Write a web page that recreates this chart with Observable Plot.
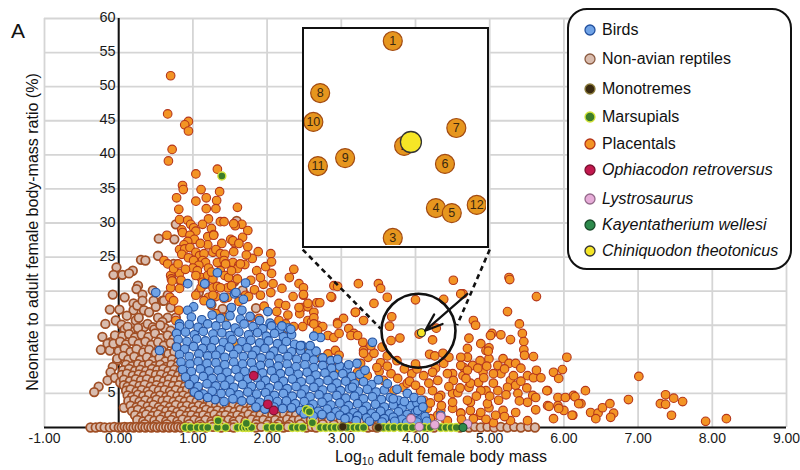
<!DOCTYPE html>
<html><head><meta charset="utf-8">
<script src="https://cdn.jsdelivr.net/npm/d3@7"></script>
<script src="https://cdn.jsdelivr.net/npm/@observablehq/plot@0.6"></script>
<style>
body{margin:0;background:#fff;font-family:"Liberation Sans",Arial,sans-serif;}
#wrap{position:relative;width:800px;height:470px;overflow:hidden;}
#wrap>svg{position:absolute;left:0;top:0;}
.panel{position:absolute;left:11px;top:20px;font-size:21px;line-height:1;color:#111;}
.xtitle{position:absolute;left:241px;width:400px;top:449px;text-align:center;font-size:16px;line-height:1;color:#111;}
.xtitle sub{font-size:10.5px;vertical-align:-3px;line-height:0;}
#inset{position:absolute;left:302px;top:27px;width:187px;height:221px;border:2.5px solid #111;box-sizing:border-box;background:#fff;}
#inset svg{display:block;}
#legend{position:absolute;left:567px;top:8px;width:225px;height:262px;border:2.5px solid #111;border-radius:20px;background:#fff;box-sizing:border-box;}
.li{position:absolute;left:0;height:20px;font-size:16px;line-height:20px;color:#111;white-space:nowrap;}
.li svg{position:absolute;left:14px;top:3px;}
.li span{position:absolute;left:33px;top:0;}
</style></head>
<body><div id="wrap"></div>
<script>
// ---------- axis ticks ----------
const xTicks = [-1,0,1,2,3,4,5,6,7,8,9];
const yGrid = [5,10,15,20,25,30,35,40,45,50,55,60];
const yTickLabels = [5,25,30,35,40,45,50,55,60];

// ---------- series (x = log10 adult female body mass, y = neonate/adult ratio %) ----------
const birds = [
[0.50,19.8],[0.55,11.3],[0.93,21.1],[1.16,21.1],[1.33,22.7],[1.42,19.1],[1.56,19.6],[1.68,18.8],[1.71,21.2],[1.01,17.7],[0.93,17.2],[1.58,19.8],[2.01,17.0],[1.66,17.2],[1.52,17.6],[1.24,18.2],[0.82,15.2],
[0.98,16.2],[1.12,15.8],[1.26,16.5],[1.37,16.0],[1.50,16.4],[1.64,15.9],[1.77,16.3],[1.90,15.7],[2.04,15.3],
[0.82,14.8],[0.95,15.1],[1.07,14.7],[1.20,15.2],[1.31,14.9],[1.45,15.0],[1.57,14.6],[1.69,15.2],[1.81,14.8],[1.94,14.5],[2.06,14.9],[2.17,14.4],[2.28,14.6],
[0.78,13.8],[0.90,14.0],[1.02,13.6],[1.14,14.1],[1.27,13.7],[1.39,13.9],[1.50,13.5],[1.62,14.0],[1.75,13.6],[1.87,13.9],[1.99,13.4],[2.10,13.8],[2.22,13.3],[2.33,13.6],
[0.80,12.9],[0.92,12.6],[1.05,13.0],[1.17,12.7],[1.29,12.8],[1.41,12.5],[1.53,12.9],[1.66,12.6],[1.78,12.8],[1.90,12.4],[2.02,12.7],[2.14,12.3],[2.26,12.6],[2.37,12.2],[2.47,12.0],
[0.78,11.8],[0.89,11.5],[1.01,11.9],[1.13,11.6],[1.25,11.7],[1.37,11.4],[1.49,11.8],[1.61,11.5],[1.73,11.7],[1.85,11.3],[1.97,11.6],[2.09,11.2],[2.21,11.5],[2.33,11.1],[2.45,11.3],[2.57,10.9],[2.66,11.2],
[0.82,10.7],[0.95,10.4],[1.08,10.8],[1.20,10.5],[1.31,10.6],[1.43,10.3],[1.55,10.7],[1.68,10.4],[1.80,10.6],[1.92,10.2],[2.04,10.5],[2.16,10.1],[2.28,10.4],[2.40,10.0],[2.52,10.3],[2.63,9.9],[2.75,10.2],[2.86,9.8],
[0.84,9.6],[0.96,9.3],[1.07,9.7],[1.19,9.4],[1.31,9.5],[1.43,9.2],[1.55,9.6],[1.67,9.3],[1.79,9.5],[1.91,9.1],[2.03,9.4],[2.15,9.0],[2.27,9.3],[2.39,8.9],[2.51,9.2],[2.63,8.8],[2.75,9.1],[2.87,8.7],[2.98,9.0],[3.08,8.6],
[0.86,8.5],[0.98,8.2],[1.10,8.6],[1.22,8.3],[1.34,8.4],[1.46,8.1],[1.58,8.5],[1.70,8.2],[1.82,8.4],[1.94,8.0],[2.06,8.3],[2.18,7.9],[2.30,8.2],[2.42,7.8],[2.54,8.1],[2.66,7.7],[2.78,8.0],[2.90,7.6],[3.02,7.9],[3.14,7.5],[3.25,7.8],
[0.90,7.4],[1.02,7.1],[1.14,7.5],[1.26,7.2],[1.38,7.3],[1.50,7.0],[1.62,7.4],[1.74,7.1],[1.86,7.3],[1.98,6.9],[2.10,7.2],[2.22,6.8],[2.34,7.1],[2.46,6.7],[2.58,7.0],[2.70,6.6],[2.82,6.9],[2.94,6.5],[3.06,6.8],[3.18,6.4],[3.30,6.7],[3.41,6.3],
[0.95,6.3],[1.07,6.0],[1.19,6.4],[1.31,6.1],[1.43,6.2],[1.55,5.9],[1.67,6.3],[1.79,6.0],[1.91,6.2],[2.03,5.8],[2.15,6.1],[2.27,5.7],[2.39,6.0],[2.51,5.6],[2.63,5.9],[2.75,5.5],[2.87,5.8],[2.99,5.4],[3.11,5.7],[3.23,5.3],[3.35,5.6],[3.47,5.2],[3.58,5.5],
[1.02,5.2],[1.14,4.9],[1.26,5.3],[1.38,5.0],[1.50,5.1],[1.62,4.8],[1.74,5.2],[1.86,4.9],[1.98,5.1],[2.10,4.7],[2.22,5.0],[2.34,4.6],[2.46,4.9],[2.58,4.5],[2.70,4.8],[2.82,4.4],[2.94,4.7],[3.06,4.3],[3.18,4.6],[3.30,4.2],[3.42,4.5],[3.54,4.1],[3.66,4.4],[3.77,4.0],
[1.30,4.1],[1.42,3.8],[1.54,4.2],[1.66,3.9],[1.78,4.0],[1.90,3.7],[2.02,4.1],[2.14,3.8],[2.26,3.9],[2.38,3.5],[2.50,3.8],[2.62,3.4],[2.74,3.7],[2.86,3.3],[2.98,3.6],[3.10,3.2],[3.22,3.5],[3.34,3.1],[3.46,3.4],[3.58,3.0],[3.70,3.3],[3.82,2.9],[3.93,3.2],[4.02,3.6],
[1.85,3.0],[1.97,2.7],[2.09,3.0],[2.21,2.8],[2.33,2.9],[2.45,2.5],[2.57,2.8],[2.69,2.4],[2.81,2.7],[2.93,2.3],[3.05,2.6],[3.17,2.2],[3.29,2.5],[3.41,2.1],[3.53,2.4],[3.65,2.0],[3.77,2.3],[3.89,1.9],[4.00,2.2],[4.08,2.6],
[2.50,2.0],[2.62,1.7],[2.74,1.9],[2.86,1.6],[2.98,1.8],[3.10,1.5],[3.22,1.7],[3.34,1.4],[3.46,1.6],[3.58,1.3],[3.70,1.5],[3.82,1.2],[3.94,1.4],[4.05,1.1],[4.13,1.6],
[3.05,1.3],[3.20,1.0],[3.38,0.9],[3.55,0.8],[3.72,0.9],[3.88,0.7],[4.02,0.8],[4.15,0.9],
[2.72,13.2],[2.63,13.4],[2.32,14.4],[2.20,14.9],[3.42,12.5],[3.21,9.4],[3.15,5.9],[3.89,5.0],[4.03,2.5],[4.34,1.8],[3.70,4.2],[3.85,3.8],[3.98,4.4],[4.08,4.0],[4.10,3.0],[2.45,12.0],[2.58,12.0],[2.95,10.0],[3.10,9.2],[3.32,8.4],[3.50,7.0],[3.62,6.4],[3.75,5.6],[1.08,4.7],[1.20,4.4]
];

const reptiles = [
[0.77,29.8],[1.59,30.3],[0.54,27.7],[0.75,27.6],[0.53,25.2],[0.30,24.6],[0.36,24.5],[-0.03,23.5],[-0.07,22.4],[0.05,22.4],[0.19,23.0],[0.14,22.6],[-0.08,19.5],[0.08,19.1],[0.26,20.8],[0.24,20.3],[0.32,19.5],[0.20,18.2],[0.47,18.6],[0.59,18.6],[0.80,21.8],[1.56,21.4],[0.66,19.4],[0.46,20.1],[0.74,24.0],[1.08,19.8],[1.55,21.5],[1.67,20.1],[1.25,18.0],[1.40,17.4],[1.85,17.5],
[-0.12,17.3],[0.01,17.3],[-0.04,15.7],[-0.18,15.2],[-0.22,13.3],[-0.11,12.5],[-0.05,13.5],[-0.15,12.3],[-0.24,11.4],[-0.12,11.3],[-0.07,12.3],[-0.02,9.8],[-0.08,8.9],[-0.11,8.1],[-0.27,6.0],[-0.15,6.9],[-0.05,7.3],[-0.33,5.2],[0.02,6.6],[0.07,2.9],[0.04,15.1],[0.08,14.4],[0.20,17.2],[0.23,15.7],[0.11,16.4],[0.16,14.1],[0.25,17.9],[0.32,18.6],[0.34,17.2],[0.41,16.9],[0.27,16.1],[0.34,14.7],[0.39,15.2],[0.46,14.7],[0.53,16.1],[0.50,17.7],[0.61,18.6],[0.70,17.6],[0.66,16.1],[0.77,16.1],[0.59,15.5],
[0.12,14.8],[0.26,14.6],[0.48,14.4],[0.62,14.6],[0.70,14.2],[0.56,15.0],
[0.05,13.4],[0.14,13.7],[0.22,13.2],[0.31,13.6],[0.40,13.3],[0.49,13.8],[0.57,13.1],[0.66,13.5],[0.74,13.0],
[0.02,12.6],[0.10,12.2],[0.19,12.7],[0.27,12.3],[0.36,12.6],[0.44,12.1],[0.53,12.5],[0.61,12.0],[0.70,12.4],[0.78,11.9],
[0.00,11.2],[0.08,11.6],[0.16,11.1],[0.24,11.5],[0.33,11.0],[0.41,11.4],[0.50,10.9],[0.58,11.3],[0.67,10.8],[0.75,11.1],
[-0.02,10.1],[0.06,10.5],[0.13,10.0],[0.21,10.4],[0.29,9.9],[0.38,10.3],[0.46,9.8],[0.55,10.2],[0.63,9.7],[0.72,10.0],[0.80,9.6],
[0.10,9.2],[0.18,9.0],[0.26,9.3],[0.33,9.1],[0.41,9.3],[0.49,9.0],[0.56,9.2],[0.64,8.9],[0.71,9.2],[0.79,9.0],
[0.06,8.4],[0.14,8.6],[0.22,8.3],[0.29,8.5],[0.37,8.3],[0.45,8.6],[0.52,8.4],[0.60,8.6],[0.67,8.3],[0.75,8.5],[0.83,8.3],
[0.04,7.7],[0.11,7.9],[0.19,7.6],[0.27,7.8],[0.34,7.6],[0.42,7.9],[0.50,7.7],[0.57,7.8],[0.65,7.5],[0.72,7.8],[0.80,7.6],[0.87,7.8],
[0.07,7.0],[0.15,6.8],[0.23,7.1],[0.30,6.9],[0.38,7.1],[0.46,6.8],[0.53,7.0],[0.61,6.8],[0.68,7.1],[0.76,6.9],[0.84,7.0],[0.91,6.8],
[0.07,6.2],[0.12,6.0],[0.20,6.3],[0.28,6.1],[0.35,6.3],[0.43,6.0],[0.51,6.2],[0.58,6.0],[0.66,6.3],[0.73,6.1],[0.81,6.2],[0.89,6.0],[0.96,6.2],
[0.10,5.4],[0.16,5.6],[0.24,5.3],[0.31,5.5],[0.39,5.3],[0.47,5.6],[0.54,5.4],[0.62,5.5],[0.69,5.3],[0.77,5.5],[0.85,5.3],[0.92,5.5],[1.00,5.3],[1.07,5.5],
[0.12,4.7],[0.18,4.5],[0.26,4.8],[0.33,4.6],[0.41,4.8],[0.49,4.5],[0.56,4.7],[0.64,4.5],[0.71,4.8],[0.79,4.6],[0.87,4.7],[0.94,4.5],[1.02,4.7],[1.10,4.5],[1.17,4.6],
[0.13,3.9],[0.21,4.1],[0.28,3.8],[0.36,4.0],[0.44,3.8],[0.51,4.1],[0.59,3.9],[0.66,4.0],[0.74,3.8],[0.82,4.0],[0.89,3.8],[0.97,4.0],[1.05,3.8],[1.12,4.0],[1.20,3.8],[1.28,4.0],[1.36,3.8],
[0.16,3.2],[0.24,3.0],[0.31,3.3],[0.39,3.1],[0.47,3.3],[0.54,3.0],[0.62,3.2],[0.69,3.0],[0.77,3.3],[0.85,3.1],[0.92,3.2],[1.00,3.0],[1.08,3.2],[1.15,3.0],[1.23,3.3],[1.31,3.1],[1.38,3.2],[1.46,3.0],[1.54,3.2],[1.62,3.0],[1.70,3.2],[1.78,3.0],
[0.18,2.4],[0.26,2.6],[0.34,2.3],[0.41,2.5],[0.49,2.3],[0.57,2.6],[0.64,2.4],[0.72,2.5],[0.79,2.3],[0.87,2.5],[0.95,2.3],[1.02,2.5],[1.10,2.3],[1.18,2.6],[1.25,2.4],[1.33,2.5],[1.41,2.3],[1.48,2.5],[1.56,2.3],[1.64,2.6],[1.71,2.4],[1.79,2.5],[1.87,2.3],[1.95,2.5],[2.03,2.3],[2.11,2.5],[2.19,2.3],[2.27,2.4],[2.35,2.2],
[0.22,1.8],[0.30,1.6],[0.37,1.9],[0.45,1.7],[0.53,1.9],[0.60,1.6],[0.68,1.8],[0.75,1.6],[0.83,1.9],[0.91,1.7],[0.98,1.8],[1.06,1.6],[1.14,1.8],[1.21,1.6],[1.29,1.9],[1.37,1.7],[1.44,1.8],[1.52,1.6],[1.60,1.8],[1.67,1.6],[1.75,1.9],[1.83,1.7],[1.91,1.8],[1.99,1.6],[2.07,1.8],[2.15,1.6],[2.23,1.9],[2.31,1.7],[2.39,1.8],[2.47,1.6],[2.55,1.8],[2.63,1.6],[2.71,1.8],[2.79,1.6],[2.87,1.7],[2.95,1.5],
[0.25,1.1],[0.33,0.9],[0.41,1.2],[0.48,1.0],[0.56,1.2],[0.64,0.9],[0.71,1.1],[0.79,0.9],[0.86,1.2],[0.94,1.0],[1.02,1.1],[1.09,0.9],[1.17,1.1],[1.25,0.9],[1.32,1.2],[1.40,1.0],[1.48,1.1],[1.55,0.9],[1.63,1.1],[1.71,0.9],[1.79,1.2],[1.87,1.0],[1.95,1.1],[2.03,0.9],[2.11,1.1],[2.19,0.9],[2.27,1.2],[2.35,1.0],[2.43,1.1],[2.51,0.9],[2.59,1.1],[2.67,0.9],[2.75,1.2],[2.83,1.0],[2.91,1.1],[2.99,0.9],[3.07,1.1],[3.15,0.9],[3.23,1.1],[3.31,0.9],[3.39,1.0],[3.47,0.8],[3.55,1.0],
[0.35,0.5],[0.50,0.4],[0.65,0.5],[0.80,0.4],[0.95,0.5],[1.10,0.4],[1.25,0.5],[1.40,0.4],[1.55,0.5],[1.70,0.4],[1.85,0.5],[2.00,0.4],[2.15,0.5],[2.30,0.4],[2.45,0.5],[2.60,0.4],[2.75,0.5],[2.90,0.4],[3.05,0.5],[3.20,0.4],[3.35,0.5],[3.50,0.4],[3.65,0.5],[3.80,0.4],[3.95,0.5],[4.10,0.4],
[-0.38,0],[-0.31,0],[-0.25,0.1],[-0.19,0],[-0.12,0],[-0.06,0.1],[0.00,0],[0.04,0],[0.08,0.1],[0.12,0],[0.16,0.1],[0.20,0],[0.24,0.1],[0.28,0],[0.32,0.1],[0.36,0],[0.40,0.1],[0.44,0],[0.48,0.1],[0.52,0],[0.56,0.1],[0.60,0],[0.64,0.1],[0.68,0],[0.72,0.1],[0.76,0],[0.80,0.1],[0.84,0],[0.88,0.1],[0.94,0],
[1.02,0],[1.10,0.1],[1.17,0],[1.27,0.1],[1.38,0],[1.49,0.1],[1.55,0],[1.85,0],[1.92,0.1],[2.04,0],[2.12,0.1],[2.22,0],[2.28,0.1],[2.53,0],[2.60,0.1],[2.66,0],[3.12,0.1],[3.36,0],[3.42,0.1],[3.48,0],[3.92,0.1],[4.00,0],[4.16,0.1],[4.25,0],[4.60,0],[4.72,0],[4.80,0.1],[4.88,0],[4.97,0.1],[5.06,0],[5.15,0.1],[5.24,0],[5.33,0.1],[5.42,0],[5.52,0.1],[5.61,0]
];

// the twelve numbered placentals inside the magnified circle (also part of placentals)
const insetLabels = ["1","2","3","4","5","6","7","8","9","10","11","12"];
const insetPoints = [[4.00,18.73],[4.05,13.71],[4.00,9.31],[4.19,10.74],[4.26,10.50],[4.23,12.85],[4.28,14.57],[3.68,16.24],[3.79,13.13],[3.65,14.86],[3.67,12.75],[4.37,10.89]];

const placentalsOther = [
[0.70,51.6],[0.66,46.0],[0.94,44.9],[0.89,44.4],[0.94,43.5],[0.72,40.8],[0.67,39.1],[1.04,37.2],[1.33,37.9],
[0.86,35.5],[0.87,34.9],[1.11,34.9],[1.36,34.6],[0.78,33.7],[1.18,33.7],[1.04,33.2],[1.32,33.3],
[0.81,32.0],[1.18,32.1],[1.31,32.1],[1.60,32.3],[0.82,30.5],[0.93,30.4],[1.21,30.6],[1.37,30.2],[1.42,30.2],
[1.66,29.8],[1.57,29.6],[0.97,29.8],[1.01,29.3],[1.04,28.8],[0.85,29.0],[0.86,28.6],[1.13,29.8],[1.25,29.2],[1.28,28.3],
[0.65,28.2],[1.20,28.0],[1.51,27.6],[1.67,27.9],[1.55,29.9],[1.74,28.9],[0.96,28.2],[1.02,27.6],[0.93,27.3],[0.88,26.8],
[0.82,26.1],[0.89,26.2],[0.96,26.4],[1.56,27.1],[1.74,26.5],[1.39,27.0],[1.54,27.4],[1.62,27.0],[1.28,28.2],
[0.85,25.4],[0.94,24.9],[1.04,25.7],[1.09,25.2],[1.15,25.5],[1.27,25.7],[1.31,26.1],[1.37,25.5],[1.43,25.4],
[1.13,24.5],[1.17,24.2],[1.01,24.5],[1.08,23.8],[1.00,23.4],[1.21,23.4],[1.33,24.2],[1.42,24.5],[1.54,24.2],[1.62,23.8],[1.70,23.9],[1.60,23.3],[1.44,24.0],[1.64,24.0],
[0.61,24.5],[0.66,24.0],[0.70,22.3],[0.71,21.8],[0.82,22.6],[0.84,21.6],[0.82,20.4],[0.70,20.5],[0.69,19.1],[0.74,18.6],[0.74,23.3],[0.72,21.5],
[1.06,23.0],[1.11,22.0],[1.20,22.3],[1.27,21.8],[1.37,23.0],[1.43,22.3],[1.48,22.0],[1.11,20.5],[1.17,21.0],[1.27,20.5],[1.33,20.7],[1.47,20.5],
[1.04,19.4],[1.21,19.1],[1.31,19.2],[1.47,19.1],[1.71,19.4],[1.75,19.2],[1.13,21.3],[1.04,22.3],[1.37,20.5],[1.27,19.4],[1.42,18.9],[1.15,18.6],
[0.81,17.2],[1.31,16.7],[1.44,16.1],[1.78,16.1],[1.89,16.0],[0.77,15.7],[1.58,12.3],
[1.80,24.8],[1.86,23.0],[1.95,21.0],[1.78,21.6],[1.83,20.2],[1.60,21.8],[1.52,23.0],[1.88,25.8],[1.72,25.3],[1.98,23.6],[2.20,20.4],[2.30,22.0],[1.55,25.8],[1.20,26.8],[1.10,27.0],[0.80,24.0],[0.90,23.2],[1.25,22.8],[1.52,20.8],[1.62,18.5],[1.96,17.8],[2.35,19.2],[2.05,19.8],[2.28,16.5],
[1.91,22.0],[2.05,25.5],[2.06,24.3],[2.06,22.6],[2.08,21.1],[1.91,19.4],[2.16,18.2],[2.25,17.9],[2.36,23.2],[2.43,21.1],
[2.49,20.5],[2.49,19.4],[2.67,18.3],[2.87,19.1],[2.90,20.8],[3.23,21.1],[2.13,17.0],[2.47,17.6],[2.55,17.7],[2.44,16.7],[2.63,16.9],
[2.55,15.7],[2.60,15.5],[2.68,15.0],[2.75,14.8],[2.16,15.7],[2.25,15.2],[2.36,14.8],[2.48,14.8],[2.95,15.4],[3.03,16.0],[3.19,16.9],
[3.10,14.5],[3.17,13.8],[3.30,15.7],[2.68,14.2],[2.82,13.5],[2.90,13.2],[2.41,11.6],[2.55,11.3],[2.70,10.3],[2.82,10.8],[2.92,11.3],
[2.97,10.6],[2.86,9.8],[2.95,9.8],[3.30,11.3],[3.36,10.3],[3.13,6.9],[3.26,6.9],[3.22,8.1],[2.98,8.4],[3.08,7.6],
[2.49,19.5],[2.86,19.2],[2.43,17.6],[2.55,18.2],[2.71,18.3],[2.63,16.1],[2.63,15.2],[2.95,15.2],[2.25,14.5],[2.97,13.8],[3.13,13.5],[3.22,13.5],[3.29,12.5],
[3.44,18.2],[3.62,19.1],[3.50,21.1],[3.53,20.4],[2.95,20.7],[3.19,16.9],
[4.38,18.8],[4.64,19.6],[4.51,21.6],[4.61,19.6],[4.38,9.4],
[4.78,15.7],[4.81,15.0],[4.72,13.1],[5.03,13.8],[4.88,12.3],[4.95,11.3],[4.70,10.3],[4.99,10.1],[5.26,22.0],[5.27,21.7],[5.63,19.2],[5.24,17.0],[5.40,15.2],[5.01,13.5],[5.15,13.6],[5.28,12.9],[5.44,13.8],[5.46,12.6],
[4.70,11.6],[4.99,11.7],[4.98,11.2],[5.46,11.4],[5.47,10.6],[5.59,10.4],[6.04,10.3],[4.45,10.3],[4.61,10.3],[4.87,9.8],[5.18,10.1],[5.26,9.4],[5.35,9.4],[5.11,9.1],[4.27,8.7],[4.65,8.8],[4.77,9.1],[4.50,7.9],[4.64,7.6],[4.91,8.1],[5.42,8.7],[5.51,7.6],[5.59,7.3],[5.63,8.4],[5.69,7.3],[5.86,8.1],[5.98,8.5],[5.15,7.9],[5.28,6.9],[5.05,6.5],[4.85,6.6],[4.72,5.9],[4.95,5.4],[5.24,5.9],[5.35,6.2],[5.38,5.0],[5.58,4.7],[5.62,4.4],[5.78,5.4],[5.92,4.4],[6.02,4.4],[6.13,4.7],[6.29,5.4],[5.12,4.0],[4.99,2.9],[5.18,2.5],[5.35,2.2],[5.51,3.7],[5.78,3.2],[5.92,3.2],[6.00,2.5],[6.12,1.8],[6.23,3.5],[6.36,2.2],[6.46,2.1],[4.74,2.5],[4.87,1.8],[4.74,3.7],[4.61,2.1],[4.50,2.8],[4.50,5.0],[4.34,4.7],[4.23,5.4],[4.11,4.0],[4.16,2.8],[4.30,1.8],[4.41,1.0],[5.28,1.0],[5.05,0.7],[5.51,1.0],[5.86,1.3],
[3.30,10.9],[3.26,9.4],[3.44,10.9],[3.53,9.5],[3.35,7.6],[3.51,8.2],[3.57,6.9],[3.67,7.9],[3.76,7.2],[3.83,5.9],[3.89,6.5],[3.71,5.4],[4.07,5.4],[4.11,7.6],[4.23,8.1],[4.30,6.9],[4.43,7.9],[4.51,6.9],[4.61,9.1],[4.70,8.4],[4.84,8.7],[4.92,7.3],[5.05,7.9],[4.74,6.5],[4.57,5.1],[4.88,5.4],[5.11,5.4],[4.31,4.4],[4.50,3.7],[4.70,4.0],[4.97,3.5],[4.34,2.5],[4.61,2.1],[4.88,2.2],[5.08,1.8],[4.43,1.0],[4.78,1.3],
[3.40,12.0],[3.55,11.8],[3.62,10.5],[3.75,9.8],[3.85,8.6],[3.95,7.9],[4.02,8.6],[3.48,8.8],[3.62,9.0],[3.92,6.8],[4.00,6.2],[4.18,6.5],[4.05,3.0],[4.20,3.6],[4.35,3.2],[4.45,6.0],[4.60,5.8],[4.82,4.6],[5.00,4.6],[4.68,7.2],[4.96,9.0],[5.20,8.6],[5.32,7.6],[5.42,6.8],[5.50,5.8],[5.22,4.8],[5.40,3.9],[5.62,2.6],[5.20,1.6],[4.95,1.2],[4.62,1.2],[4.20,1.3],
[6.87,4.1],[7.01,7.5],[7.37,4.8],[7.30,3.5],[7.37,3.4],[7.48,4.3],[7.60,3.8],[7.45,1.8],[7.91,0.9],[8.19,1.3],[6.15,4.5],[6.20,3.5],[5.77,5.4],[5.80,3.1],[5.93,2.8],[6.11,1.8],[6.43,1.3],[6.52,2.9],[6.62,3.5],[6.67,2.1],[6.63,1.5],[5.93,7.2]
];
const placentals = placentalsOther.concat(insetPoints);

const marsupials = [[0.90,0],[0.97,0],[1.06,0],[1.13,0],[1.20,0],[1.33,0],[1.44,0],[1.60,0],[1.67,0],[1.71,0],[1.75,0],[1.79,0],[2.00,0],[2.08,0],[2.16,0],[2.34,0],[2.41,0],[2.48,0],[2.72,0],[2.79,0],[2.86,0],[2.92,0],[2.99,0],[3.08,0],[3.17,0],[3.23,0],[3.30,0],[3.57,0],[3.64,0],[3.71,0],[3.80,0],[3.87,0],[3.96,0],[4.05,0],[4.12,0],[4.20,0],[4.34,0],[4.41,0],[4.48,0],[4.55,0],[1.34,1.0],[1.72,0.6],[2.53,2.6],[2.57,2.3],[2.61,0.7],[1.39,36.9]];
const monotremes = [[3.50,0],[3.02,0.1]];
const ophiacodon = [[1.82,7.6],[2.01,3.4],[2.09,2.5]];
const lystrosaurus = [[3.94,1.3],[4.34,1.6],[4.26,0.4],[4.70,0.5],[4.05,0.1]];
const kayentatherium = [[4.64,0]];
const chiniquodon = [[4.08,13.9]];

// annotation anchors (data coordinates)
const zoomCircle = [[4.04,14.2]];
const zoomLines = [[2.48,26.1,3.53,14.5],[5.00,26.1,4.56,15.0]];
const zoomArrow = [[4.70,19.6,4.13,14.2]];

// legend
const legendLabels = ["Birds","Non-avian reptiles","Monotremes","Marsupials","Placentals","Ophiacodon retroversus","Lystrosaurus","Kayentatherium wellesi","Chiniquodon theotonicus"];
const legendItalic = [false,false,false,false,false,true,true,true,true];

// ---------- styles ----------
const S = {
  birds:{fill:"#70a3e6",stroke:"#22509e",sw:1.1},
  reptiles:{fill:"#d9bcae",stroke:"#a04e24",sw:1.75},
  monotremes:{fill:"#3a2a10",stroke:"#8a7a3a",sw:1.1},
  marsupials:{fill:"#3c7d2a",stroke:"#d2e23a",sw:1.4},
  placentals:{fill:"#f39424",stroke:"#b5361a",sw:1.1},
  ophiacodon:{fill:"#c2184e",stroke:"#7a1030",sw:1.1},
  lystrosaurus:{fill:"#e6acd8",stroke:"#946a8a",sw:1.1},
  kayentatherium:{fill:"#2d8a4c",stroke:"#1a4a2a",sw:1.1},
  chiniquodon:{fill:"#f4e526",stroke:"#333",sw:1.2}
};
const legendKeys = ["birds","reptiles","monotremes","marsupials","placentals","ophiacodon","lystrosaurus","kayentatherium","chiniquodon"];
const legendSwatchStroke = {reptiles:"#8a5a40"};

const FONT = '"Liberation Sans", Arial, sans-serif';
const dots = (data, s, r = 4.3) => Plot.dot(data, {x: d => d[0], y: d => d[1], r, fill: s.fill, stroke: s.stroke, strokeWidth: s.sw});

const main = Plot.plot({
  width: 800, height: 470,
  marginLeft: 44, marginRight: 14, marginTop: 18, marginBottom: 43,
  x: {domain: [-1, 9], axis: null},
  y: {domain: [0, 60], axis: null},
  style: {fontFamily: FONT, background: "#fff", color: "#111"},
  marks: [
    Plot.gridX(xTicks, {stroke: "#d5d5d5", strokeOpacity: 1, strokeWidth: 1.8}),
    Plot.gridY(yGrid, {stroke: "#d5d5d5", strokeOpacity: 1, strokeWidth: 1.8}),
    Plot.text(xTicks, {x: d => d, y: 0, text: d => d.toFixed(2), dy: 11, fontSize: 14, fill: "#1a1a1a"}),
    Plot.ruleX([0], {y1: 0, y2: 60, stroke: "#111", strokeWidth: 2}),
    Plot.ruleY([0], {stroke: "#111", strokeWidth: 2.2}),
    Plot.text(["Neonate to adult female body-mass ratio (%)"], {frameAnchor: "left", textAnchor: "middle", lineAnchor: "middle", rotate: -90, dx: -12, dy: 9, fontSize: 16, fill: "#111"}),
    dots(reptiles, S.reptiles),
    dots(placentals, S.placentals),
    dots(birds, S.birds),
    dots(marsupials, S.marsupials, 4),
    dots(monotremes, S.monotremes, 4),
    dots(lystrosaurus, S.lystrosaurus),
    dots(kayentatherium, S.kayentatherium, 4),
    dots(ophiacodon, S.ophiacodon),
    dots(chiniquodon, S.chiniquodon, 4),
    Plot.text(yTickLabels, {x: 0, y: d => d, text: d => String(d), textAnchor: "end", dx: -3, dy: -1, fontSize: 14.5, fill: "#1a1a1a"}),
    Plot.dot(zoomCircle, {x: d => d[0], y: d => d[1], r: 37, fill: "none", stroke: "#111", strokeWidth: 2.6}),
    Plot.link(zoomLines, {x1: d => d[0], y1: d => d[1], x2: d => d[2], y2: d => d[3], stroke: "#111", strokeWidth: 2.6, strokeDasharray: "5,4"}),
    Plot.arrow(zoomArrow, {x1: d => d[0], y1: d => d[1], x2: d => d[2], y2: d => d[3], stroke: "#111", strokeWidth: 2.2, headLength: 14, headAngle: 40})
  ]
});

const wrap = document.getElementById("wrap");
wrap.appendChild(main);

// panel letter and x title
const A = document.createElement("div"); A.className = "panel"; A.textContent = "A"; wrap.appendChild(A);
const xt = document.createElement("div"); xt.className = "xtitle";
xt.innerHTML = "Log<sub>10</sub> adult female body mass"; wrap.appendChild(xt);

// inset (3x magnification around Chiniquodon)
const insetDiv = document.createElement("div"); insetDiv.id = "inset"; wrap.appendChild(insetDiv);
const insetData = insetPoints.map((p, i) => ({x: p[0], y: p[1], label: insetLabels[i]}));
const inset = Plot.plot({
  width: 182, height: 216, margin: 0,
  x: {domain: [3.611, 4.413], axis: null},
  y: {domain: [8.95, 19.28], axis: null},
  style: {fontFamily: FONT, background: "#fff"},
  marks: [
    Plot.dot(insetData, {x: "x", y: "y", r: 9.5, fill: "#e6961e", stroke: "#a24a12", strokeWidth: 1.2}),
    Plot.text(insetData, {x: "x", y: "y", text: "label", fontSize: 12.5, fill: "#3a2810"}),
    Plot.dot(chiniquodon, {x: d => d[0], y: d => d[1], r: 10.5, fill: "#f6e626", stroke: "#333", strokeWidth: 1.3})
  ]
});
insetDiv.appendChild(inset);

// legend
const leg = document.createElement("div"); leg.id = "legend"; wrap.appendChild(leg);
const rowTops = [10, 38.5, 68.5, 97, 123.5, 149.5, 178.5, 205, 231];
legendLabels.forEach((lab, i) => {
  const k = legendKeys[i], s = S[k];
  const row = document.createElement("div"); row.className = "li"; row.style.top = rowTops[i] + "px";
  row.innerHTML = `<svg width="14" height="14"><circle cx="7" cy="7" r="5" fill="${s.fill}" stroke="${legendSwatchStroke[k] || s.stroke}" stroke-width="1.3"/></svg>`;
  const sp = document.createElement("span"); sp.textContent = lab;
  if (legendItalic[i]) sp.style.fontStyle = "italic";
  row.appendChild(sp); leg.appendChild(row);
});
</script></body></html>
